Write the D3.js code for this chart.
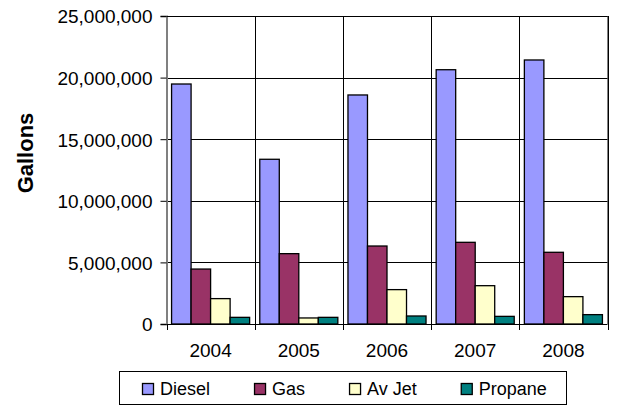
<!DOCTYPE html>
<html><head><meta charset="utf-8">
<script src="https://cdn.jsdelivr.net/npm/d3@7"></script>
<style>body{margin:0;background:#fff}svg{display:block}text{font-family:Arial,"Liberation Sans",sans-serif}</style>
</head><body><svg id="c" width="626" height="405"></svg>
<script>
const years = ["2004","2005","2006","2007","2008"];
const seriesNames = ["Diesel","Gas","Av Jet","Propane"];
const diesel = [19480000,13370000,18590000,20640000,21430000];
const gas = [4460000,5710000,6330000,6630000,5820000];
const avJet = [2060000,490000,2790000,3110000,2220000];
const propane = [540000,540000,650000,620000,760000];
const yTicks = [0,5000000,10000000,15000000,20000000,25000000];
const colors = ["#9999FF","#993366","#FFFFCC","#008080"];

const series = [diesel,gas,avJet,propane];
const svg = d3.select("#c");
const L=166.5, R=607.5, T=16, B=324;
const x0 = d3.scaleBand().domain(years).range([L,R]).paddingInner(0.115).paddingOuter(0.0575);
const x1 = d3.scaleBand().domain(seriesNames).range([0,x0.bandwidth()]);
const y = d3.scaleLinear().domain([0,25000000]).range([B,T]);

// horizontal gridlines
svg.append("g").selectAll("line").data(yTicks.slice(1)).join("line")
  .attr("x1",L).attr("x2",R).attr("y1",d=>Math.round(y(d))+0.5).attr("y2",d=>Math.round(y(d))+0.5)
  .attr("stroke","#000").attr("stroke-width",1);
// vertical gridlines at category boundaries
const bounds = years.map(d=>x0(d)-x0.step()*x0.paddingInner()/2).concat([R]);
svg.append("g").selectAll("line").data(bounds.slice(1)).join("line")
  .attr("x1",d=>Math.round(d)+0.5).attr("x2",d=>Math.round(d)+0.5).attr("y1",T).attr("y2",B)
  .attr("stroke","#000").attr("stroke-width",1);

// bars
const g = svg.append("g");
years.forEach((yr,i)=>{
  series.forEach((s,j)=>{
    g.append("rect")
      .attr("x",x0(yr)+x1(seriesNames[j])).attr("width",x1.bandwidth())
      .attr("y",y(s[i])).attr("height",B-y(s[i]))
      .attr("fill",colors[j]).attr("stroke","#000").attr("stroke-width",1.3);
  });
});

// y axis
const yAxis = d3.axisLeft(y).tickValues(yTicks).tickSize(6).tickPadding(8).tickFormat(d3.format(","));
const ya = svg.append("g").attr("transform",`translate(${L},0)`).call(yAxis);
ya.select(".domain").attr("stroke","#808080").attr("stroke-width",2);
ya.selectAll(".tick line").attr("stroke","#000");
ya.selectAll("text").attr("font-size",19).attr("fill","#000").attr("dy","0.36em");

// x axis
svg.append("line").attr("x1",L).attr("x2",R).attr("y1",B+0.5).attr("y2",B+0.5).attr("stroke","#000");
svg.append("g").selectAll("line").data(bounds).join("line")
  .attr("x1",d=>Math.round(d)+0.5).attr("x2",d=>Math.round(d)+0.5).attr("y1",B).attr("y2",B+6)
  .attr("stroke","#000");
svg.append("g").selectAll("text").data(years).join("text")
  .attr("x",d=>x0(d)+x0.bandwidth()/2).attr("y",357).attr("text-anchor","middle")
  .attr("font-size",19).text(d=>d);

// plot border top/right
svg.append("line").attr("x1",L).attr("x2",R).attr("y1",T+0.5).attr("y2",T+0.5).attr("stroke","#000");
svg.append("line").attr("x1",R+0.5).attr("x2",R+0.5).attr("y1",T).attr("y2",B).attr("stroke","#000");

// y title
svg.append("text").attr("transform","translate(33,153) rotate(-90)").attr("text-anchor","middle")
  .attr("font-size",22).attr("font-weight","bold").text("Gallons");

// legend
const lg = svg.append("g");
lg.append("rect").attr("x",119.5).attr("y",371.5).attr("width",447).attr("height",33)
  .attr("fill","#fff").attr("stroke","#000");
let lx = 142;
seriesNames.forEach((n,j)=>{
  lg.append("rect").attr("x",lx+0.5).attr("y",383.5).attr("width",11).attr("height",11)
    .attr("fill",colors[j]).attr("stroke","#000").attr("stroke-width",1.3);
  const t = lg.append("text").attr("x",lx+18).attr("y",395).attr("font-size",18).text(n);
  lx += 18 + t.node().getComputedTextLength() + 44;
});
</script></body></html>
